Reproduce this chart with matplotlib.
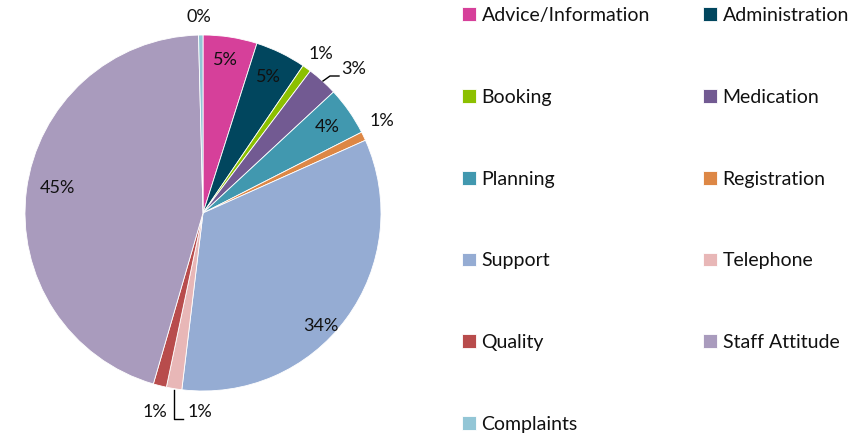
import matplotlib
matplotlib.use("Agg")
import matplotlib.pyplot as plt
import numpy as np

categories = ["Advice/Information", "Administration", "Booking", "Medication",
              "Planning", "Registration", "Support", "Telephone", "Quality",
              "Staff Attitude", "Complaints"]
shares = [4.9, 4.6, 0.8, 2.8, 4.4, 0.8, 33.6, 1.4, 1.2, 45.1, 0.4]
colors = ["#D6409A", "#01465E", "#8CC000", "#725A92", "#4198AF", "#DD8745",
          "#95ACD3", "#E8B7B7", "#B84C4C", "#A99BBD", "#93C6D6"]

plt.rcParams["font.family"] = ["Lato", "DejaVu Sans"]
FS = 13
LFS = 14

W, H = 867, 438
fig = plt.figure(figsize=(W / 100, H / 100), dpi=100)
cx, cy, r = 203, 213, 178
ax = fig.add_axes([(cx - r) / W, (H - cy - r) / H, 2 * r / W, 2 * r / H])

wedges, _ = ax.pie(shares, colors=colors, startangle=90, counterclock=False,
                   radius=1, wedgeprops=dict(edgecolor="white", linewidth=0.6))
for w in wedges:
    w.set_clip_on(False)
ax.set_xlim(-1, 1)
ax.set_ylim(-1, 1)
ax.set_aspect("equal")
ax.axis("off")


def px(x, y):
    """pixel position -> pie data coordinates"""
    return (x - cx) / r, (cy - y) / r


# label anchor positions (pixels) for each slice
label_pos = [(225, 60), (268, 77), (321, 54), (354, 69), (327, 127), (382, 121),
             (321, 326), (200, 412), (155, 412), (57, 188), (199, 17)]
for val, (x, y) in zip(shares, label_pos):
    tx, ty = px(x, y)
    ax.text(tx, ty, f"{val:.0f}%", ha="center", va="center", fontsize=FS,
            color="#111111")

# leader lines
lx, ly = zip(*[px(323, 81), px(330, 76), px(339, 76)])
ax.plot(lx, ly, color="black", lw=1, clip_on=False)
lx, ly = zip(*[px(174, 390), px(174, 419), px(183, 419)])
ax.plot(lx, ly, color="black", lw=1, clip_on=False)

# legend filled row by row (matplotlib fills column by column)
order = list(range(0, len(categories), 2)) + list(range(1, len(categories), 2))
leg = fig.legend([wedges[i] for i in order], [categories[i] for i in order],
                 ncol=2, loc="upper left",
                 bbox_to_anchor=(462 / W, 1 - 7 / H), frameon=False,
                 fontsize=LFS, handlelength=0.7, handleheight=0.7,
                 handletextpad=0.3, labelspacing=3.33, columnspacing=2.75,
                 borderaxespad=0, borderpad=0)
for t in leg.get_texts():
    t.set_color("#111111")

fig.savefig("out.png", dpi=100)
